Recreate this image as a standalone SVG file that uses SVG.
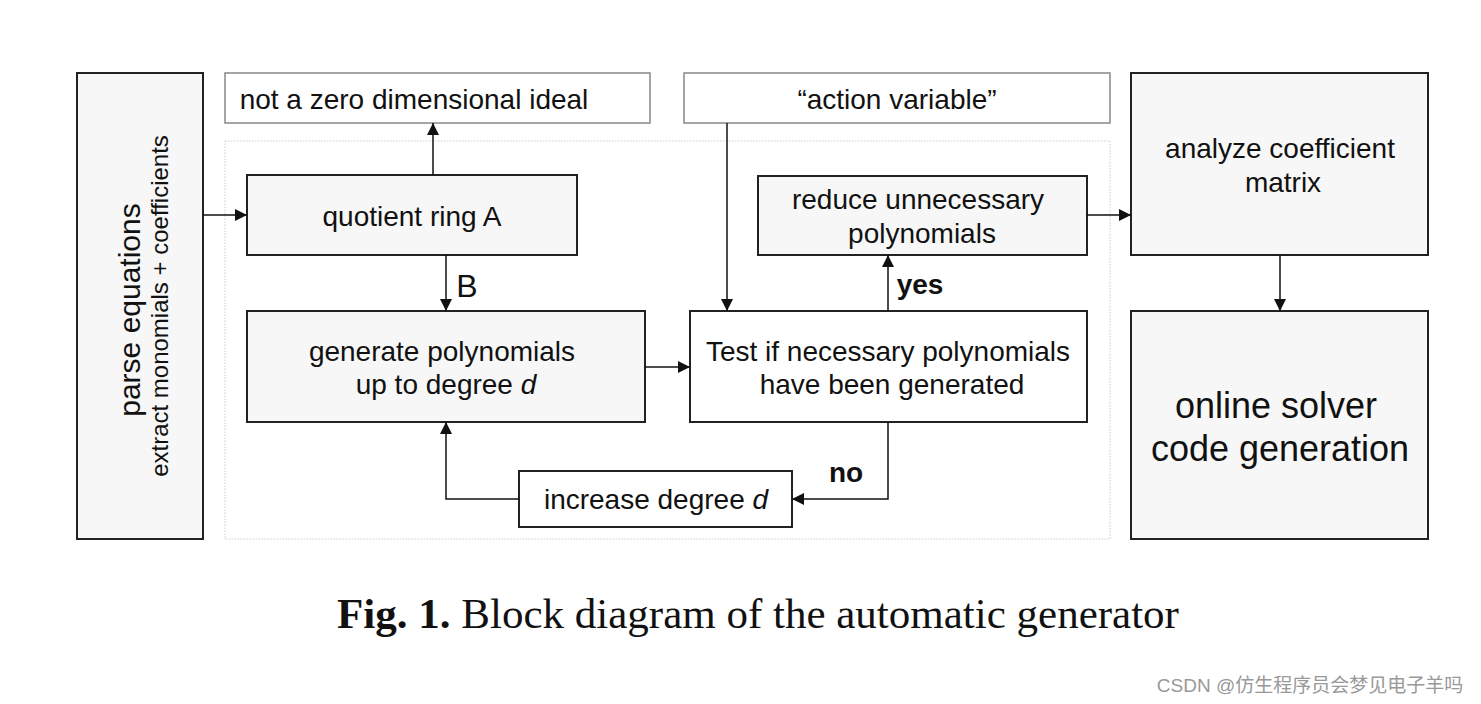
<svg xmlns="http://www.w3.org/2000/svg" width="1481" height="704" viewBox="0 0 1481 704">
<style>
.box{fill:#f7f7f7;stroke:#222;stroke-width:2}
.wbox{fill:#fff;stroke:#222;stroke-width:2}
.gbox{fill:#fff;stroke:#888;stroke-width:1.5}
.t{font-family:"Liberation Sans",Arial,sans-serif;font-size:28px;fill:#111;text-anchor:middle}
.b{font-weight:bold}
.c{fill:none;stroke:#111;stroke-width:1.5}
</style>
<defs>
<marker id="ah" viewBox="0 0 10 10" refX="10" refY="5" markerWidth="12" markerHeight="12" markerUnits="userSpaceOnUse" orient="auto">
<path d="M0,0 L10,5 L0,10 z" fill="#111"/>
</marker>
</defs>
<rect width="1481" height="704" fill="#fff"/>
<rect id="frame" x="225" y="141" width="885" height="398" fill="none" stroke="#ccc" stroke-width="1" stroke-dasharray="1.5,1.5"/>
<g id="parse">
<rect class="box" x="77" y="73" width="126" height="466"/>
<text class="t" transform="translate(140,310) rotate(-90)" style="font-size:30px">parse equations</text>
<text class="t" transform="translate(168,306) rotate(-90)" style="font-size:24px">extract monomials + coefficients</text>
</g>
<g id="notzero">
<rect class="gbox" x="225" y="73" width="425" height="50"/>
<text class="t" x="414" y="109">not a zero dimensional ideal</text>
</g>
<g id="action">
<rect class="gbox" x="684" y="73" width="426" height="50"/>
<text class="t" x="897" y="109">“action variable”</text>
</g>
<g id="quotient">
<rect class="box" x="247" y="175" width="330" height="80"/>
<text class="t" x="412" y="226">quotient ring A</text>
</g>
<g id="generate">
<rect class="box" x="247" y="311" width="398" height="111"/>
<text class="t" x="442" y="361">generate polynomials</text>
<text class="t" x="446" y="394">up to degree <tspan font-style="italic">d</tspan></text>
</g>
<g id="test">
<rect class="wbox" x="690" y="311" width="397" height="111"/>
<text class="t" x="888" y="361">Test if necessary polynomials</text>
<text class="t" x="892" y="394">have been generated</text>
</g>
<g id="reduce">
<rect class="box" x="758" y="176" width="329" height="79"/>
<text class="t" x="918" y="209">reduce unnecessary</text>
<text class="t" x="922" y="243">polynomials</text>
</g>
<g id="increase">
<rect class="wbox" x="519" y="471" width="273" height="56"/>
<text class="t" x="656" y="509">increase degree <tspan font-style="italic">d</tspan></text>
</g>
<g id="analyze">
<rect class="box" x="1131" y="73" width="297" height="182"/>
<text class="t" x="1280" y="158">analyze coefficient</text>
<text class="t" x="1283" y="192">matrix</text>
</g>
<g id="online">
<rect class="box" x="1131" y="311" width="297" height="228"/>
<text class="t" x="1276" y="418" style="font-size:36px">online solver</text>
<text class="t" x="1280" y="461" style="font-size:36px">code generation</text>
</g>
<g id="connectors">
<path class="c" d="M203,215 H247" marker-end="url(#ah)"/>
<path class="c" d="M433,175 V123" marker-end="url(#ah)"/>
<path class="c" d="M446,255 V311" marker-end="url(#ah)"/>
<path class="c" d="M645,367 H690" marker-end="url(#ah)"/>
<path class="c" d="M727,123 V311" marker-end="url(#ah)"/>
<path class="c" d="M888,311 V255" marker-end="url(#ah)"/>
<path class="c" d="M1087,215 H1131" marker-end="url(#ah)"/>
<path class="c" d="M1280,255 V311" marker-end="url(#ah)"/>
<path class="c" d="M888,422 V499 H792" marker-end="url(#ah)"/>
<path class="c" d="M519,499 H446 V422" marker-end="url(#ah)"/>
<text class="t" x="467" y="297" style="font-size:32px">B</text>
<text class="t b" x="920" y="294">yes</text>
<text class="t b" x="846" y="482">no</text>
</g>
<text x="758" y="628" font-family="'Liberation Serif','Times New Roman',serif" font-size="43" text-anchor="middle" fill="#111"><tspan font-weight="bold">Fig. 1.</tspan> Block diagram of the automatic generator</text>
<text x="1310" y="692" font-family="'Liberation Sans','Noto Sans CJK SC',sans-serif" font-size="19" text-anchor="middle" fill="#999">CSDN @仿生程序员会梦见电子羊吗</text>
</svg>
